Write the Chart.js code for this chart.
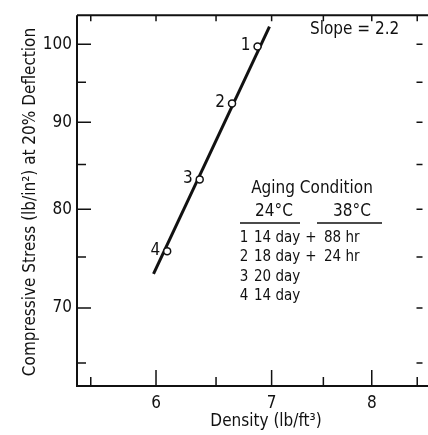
<!DOCTYPE html>
<html>
<head>
<meta charset="utf-8">
<script src="https://cdn.jsdelivr.net/npm/chart.js@4.4.1/dist/chart.umd.min.js"></script>
<style>
  html, body { margin: 0; padding: 0; background: #fff; }
</style>
</head>
<body>
<canvas id="chart" width="428" height="435"></canvas>
<script>
const FONT = "'DejaVu Sans Condensed', 'Liberation Sans Narrow', 'DejaVu Sans', sans-serif";
const INK = "#111";

// measured points (log-log plot)
const pointLabels = ["1", "2", "3", "4"];
const density = [6.87, 6.64, 6.36, 6.09];
const stress = [99.7, 92.3, 83.3, 75.6];

// fitted line ends, slope 2.2
const fitDensity = [5.98, 6.98];
const fitStress = [73.3, 102.4];

const xTicks = [5.5, 6, 6.5, 7, 7.5, 8, 8.5];
const xTickLabels = { 6: "6", 7: "7", 8: "8" };
const yTicks = [65, 70, 75, 80, 85, 90, 95, 100];
const yTickLabels = { 70: "70", 80: "80", 90: "90", 100: "100" };

const xTitle = "Density (lb/ft\u00b3)";
const yTitle = "Compressive Stress (lb/in\u00b2) at 20% Deflection";
const slopeText = "Slope = 2.2";
const tableTitle = "Aging Condition";
const tableHeads = ["24\u00b0C", "38\u00b0C"];
const tableRows = [
  ["1", "14 day", "+", "88 hr"],
  ["2", "18 day", "+", "24 hr"],
  ["3", "20 day", "", ""],
  ["4", "14 day", "", ""]
];

function font(size) {
  return size + "px " + FONT;
}

const framePlugin = {
  id: "frame",
  afterDraw(chart) {
    const ctx = chart.ctx;
    const a = chart.chartArea;
    const x = chart.scales.x;
    const y = chart.scales.y;
    ctx.save();
    ctx.strokeStyle = INK;
    ctx.lineWidth = 2;
    ctx.beginPath();
    ctx.moveTo(a.left, a.top);
    ctx.lineTo(a.left, a.bottom);
    ctx.lineTo(chart.width, a.bottom);
    ctx.moveTo(a.left, a.top);
    ctx.lineTo(chart.width, a.top);
    ctx.stroke();

    ctx.lineWidth = 1.5;
    ctx.beginPath();
    xTicks.forEach(v => {
      const px = x.getPixelForValue(v);
      const major = v in xTickLabels;
      ctx.moveTo(px, a.bottom);
      ctx.lineTo(px, a.bottom - (major ? 16 : 9));
      ctx.moveTo(px, a.top);
      ctx.lineTo(px, a.top + 6);
    });
    yTicks.forEach(v => {
      const py = y.getPixelForValue(v);
      const major = v in yTickLabels;
      ctx.moveTo(a.left, py);
      ctx.lineTo(a.left + (major ? 14 : 9), py);
      ctx.moveTo(a.right, py);
      ctx.lineTo(a.right - 6, py);
    });
    ctx.stroke();

    // axis titles
    ctx.fillStyle = INK;
    ctx.font = font(17);
    ctx.textAlign = "center";
    ctx.textBaseline = "middle";
    ctx.fillText(xTitle, 266, 422);
    ctx.save();
    ctx.translate(31, 202);
    ctx.rotate(-Math.PI / 2);
    ctx.fillText(yTitle, 0, 0);
    ctx.restore();

    // point numbers
    const meta = chart.getDatasetMeta(1);
    ctx.textAlign = "right";
    meta.data.forEach((pt, i) => {
      ctx.fillText(pointLabels[i], pt.x - 7, pt.y - 1);
    });

    // notes
    ctx.textAlign = "left";
    ctx.fillText(slopeText, 310, 30);
    ctx.textAlign = "center";
    ctx.fillText(tableTitle, 312, 189);
    ctx.fillText(tableHeads[0], 274, 212);
    ctx.fillText(tableHeads[1], 352, 212);
    ctx.beginPath();
    ctx.moveTo(240, 223);
    ctx.lineTo(300, 223);
    ctx.moveTo(317, 223);
    ctx.lineTo(382, 223);
    ctx.stroke();
    ctx.font = font(15);
    tableRows.forEach((row, i) => {
      const ry = 238 + i * 19.5;
      ctx.textAlign = "center";
      ctx.fillText(row[0], 244, ry);
      ctx.fillText(row[2], 311, ry);
      ctx.textAlign = "left";
      ctx.fillText(row[1], 254, ry);
      ctx.fillText(row[3], 324, ry);
    });
    ctx.restore();
  }
};

new Chart(document.getElementById("chart"), {
  type: "scatter",
  data: {
    datasets: [
      {
        data: fitDensity.map((d, i) => ({ x: d, y: fitStress[i] })),
        showLine: true,
        borderColor: INK,
        borderWidth: 3,
        pointRadius: 0,
        order: 2
      },
      {
        data: density.map((d, i) => ({ x: d, y: stress[i] })),
        pointRadius: 3.5,
        pointBackgroundColor: "#fff",
        pointBorderColor: INK,
        pointBorderWidth: 1.5,
        order: 1
      }
    ]
  },
  plugins: [framePlugin],
  options: {
    responsive: false,
    animation: false,
    devicePixelRatio: 1,
    layout: { padding: { top: 7, right: 4, left: 0, bottom: 0 } },
    plugins: {
      legend: { display: false },
      tooltip: { enabled: false }
    },
    scales: {
      x: {
        type: "logarithmic",
        bounds: "data",
        min: 5.4,
        max: 8.56,
        afterBuildTicks: s => { s.ticks = xTicks.map(v => ({ value: v })); },
        afterFit: s => { s.height = 49; },
        grid: { display: false, drawTicks: false },
        border: { display: false },
        ticks: {
          callback: v => xTickLabels[v] || "",
          font: { family: FONT, size: 17 },
          color: INK,
          padding: 7,
          maxRotation: 0,
          autoSkip: false
        }
      },
      y: {
        type: "logarithmic",
        bounds: "data",
        min: 63,
        max: 104,
        afterBuildTicks: s => { s.ticks = yTicks.map(v => ({ value: v })); },
        afterFit: s => { s.width = 77; },
        grid: { display: false, drawTicks: false },
        border: { display: false },
        ticks: {
          callback: v => yTickLabels[v] || "",
          font: { family: FONT, size: 17 },
          color: INK,
          padding: 5,
          autoSkip: false
        }
      }
    }
  }
});
</script>
</body>
</html>
